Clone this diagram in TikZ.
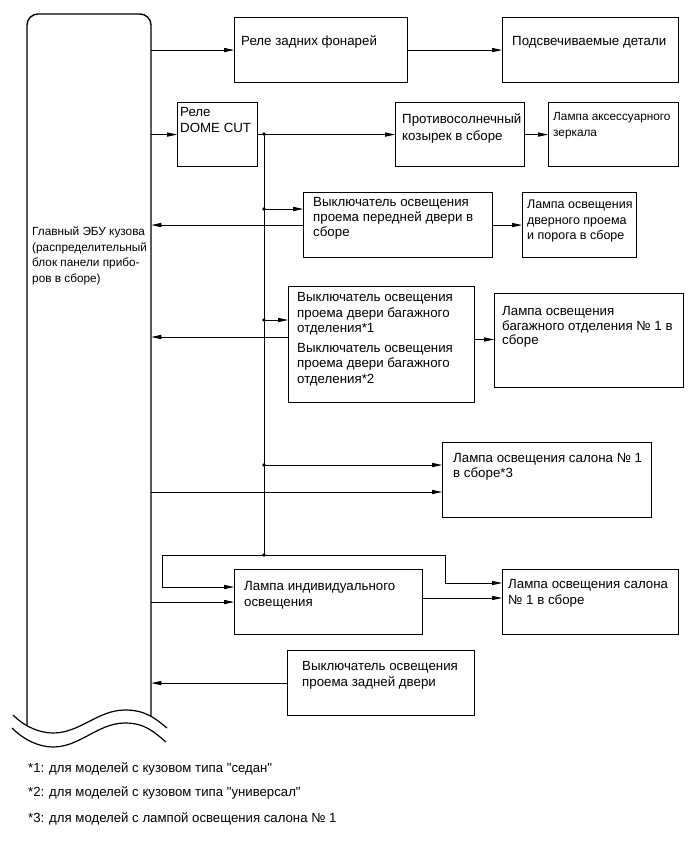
\documentclass[tikz,border=0pt]{standalone}
\usepackage{fontspec}
\setmainfont{Liberation Sans}[Ligatures=TeXOff]
\usetikzlibrary{arrows.meta}
\newcommand\fmain{\fontsize{13.3}{15.5}\selectfont}
\newcommand\fmid{\fontsize{12.5}{15.5}\selectfont}
\newcommand\fsmall{\fontsize{11.8}{15.5}\selectfont}
\newcommand\ffoot{\fontsize{13.2}{15.5}\selectfont}
\begin{document}
\begin{tikzpicture}[x=1pt,y=-1pt,
  box/.style={draw, line width=1.1pt, inner sep=0, anchor=north west},
  txt/.style={anchor=north west, inner sep=0, align=left, font=\fmain},
  stxt/.style={txt, font=\fsmall},
  ftxt/.style={txt, font=\ffoot},
  conn/.style={line width=0.75pt},
  arr/.style={conn, -{Triangle[length=10pt,width=4.2pt]}},
  eculine/.style={line width=1.4pt},
  dot/.style={fill=black}]
\useasboundingbox (0,0) rectangle (689,853);

% ECU
\path node[inner sep=0, minimum width=124pt, minimum height=711pt, anchor=north west] (ecu) at (27,14) {};
\draw[eculine, rounded corners=11pt] (27,725) -- (27,14) -- (151,14) -- (151,716);
\draw[line width=1.2pt] (13,715) .. controls (25,727) and (40,733) .. (53,733)
  .. controls (80,733) and (98,710) .. (125,710)
  .. controls (145,710) and (155,718) .. (167,728);
\draw[line width=1.2pt] (12,728) .. controls (24,740) and (39,747) .. (53,747)
  .. controls (80,747) and (98,723) .. (125,723)
  .. controls (145,723) and (154,732) .. (166,742);
\node[stxt] (tecu) at (32,224.5) {\strut Главный ЭБУ кузова\\(распределительный\\блок панели прибо-\\ров в сборе)};

% boxes
\node[box, minimum width=173pt, minimum height=65pt] (rl) at (234,17) {};
\node[txt] (trl) at (241,34.5) {\strut Реле задних фонарей};
\node[box, minimum width=176pt, minimum height=65pt] (pd) at (502,17) {};
\node[txt] (tpd) at (512,34.5) {\strut Подсвечиваемые детали};

\node[box, minimum width=80pt, minimum height=64pt] (dc) at (177,102) {};
\node[txt, font=\fontsize{13.3}{16}\selectfont] (tdc) at (180,105) {\strut Реле\\DOME CUT};
\node[box, minimum width=129pt, minimum height=64pt] (sv) at (395,102) {};
\node[txt, font=\fontsize{13.3}{17}\selectfont] (tsv) at (402,111) {\strut Противосолнечный\\козырек в сборе};
\node[box, minimum width=130pt, minimum height=64pt] (ml) at (548,102) {};
\node[stxt] (tml) at (553,109.5) {\strut Лампа аксессуарного\\зеркала};

\node[box, minimum width=189pt, minimum height=65pt] (fs) at (303,192) {};
\node[txt, font=\fontsize{13.3}{15}\selectfont] (tfs) at (313,195.5) {\strut Выключатель освещения\\проема передней двери в\\сборе};
\node[box, minimum width=114pt, minimum height=65pt] (dl) at (522,192) {};
\node[txt, font=\fmid] (tdl) at (527,197.5) {\strut Лампа освещения\\дверного проема\\и порога в сборе};

\node[box, minimum width=186pt, minimum height=116pt] (ls) at (288,286) {};
\node[txt, font=\fontsize{13.3}{15.5}\selectfont] (tls) at (297,290.5) {\strut Выключатель освещения\\проема двери багажного\\отделения*1\\[4pt]Выключатель освещения\\проема двери багажного\\отделения*2};
\node[box, minimum width=189pt, minimum height=94pt] (ll) at (494,293) {};
\node[txt, font=\fontsize{13.3}{14.5}\selectfont] (tll) at (502,305.5) {\strut Лампа освещения\\багажного отделения № 1 в\\сборе};

\node[box, minimum width=209pt, minimum height=75pt] (sl) at (442,442) {};
\node[txt, font=\fontsize{13.3}{14.5}\selectfont] (tsl) at (453,452.5) {\strut Лампа освещения салона № 1\\в сборе*3};

\node[box, minimum width=188pt, minimum height=65pt] (il) at (234,569) {};
\node[txt, font=\fontsize{13.3}{16}\selectfont] (til) at (244,579.5) {\strut Лампа индивидуального\\освещения};
\node[box, minimum width=176pt, minimum height=65pt] (s2) at (502,569) {};
\node[txt] (ts2) at (508,577.5) {\strut Лампа освещения салона\\№ 1 в сборе};

\node[box, minimum width=187pt, minimum height=65pt] (rd) at (287,650) {};
\node[txt] (trd) at (302,659.5) {\strut Выключатель освещения\\проема задней двери};

% footnotes
\node[ftxt] (fn1) at (28,761.5) {\strut *1: для моделей с кузовом типа "седан"};
\node[ftxt] (fn2) at (28,785.5) {\strut *2: для моделей с кузовом типа "универсал"};
\node[ftxt] (fn3) at (28,811.5) {\strut *3: для моделей с лампой освещения салона № 1};

% junctions and levels
\coordinate (j1) at (264,134);
\coordinate (j2) at (264,209);
\coordinate (j3) at (264,320);
\coordinate (j4) at (264,465);
\coordinate (j5) at (264,555);
\coordinate (y337) at (0,337);
\coordinate (y339) at (0,339.5);
\coordinate (y492) at (0,492);
\coordinate (y583) at (0,583);
\coordinate (y587) at (0,587);
\coordinate (y598) at (0,598);
\coordinate (lft) at (162,555);
\coordinate (rgt) at (445,555);

% connectors
\draw[arr] (ecu.east |- rl.west) -- (rl.west);
\draw[arr] (rl.east) -- (pd.west);
\draw[arr] (ecu.east |- dc.west) -- (dc.west);
\draw[arr] (dc.east) -- (sv.west);
\draw[arr] (sv.east) -- (ml.west);
\draw[conn] (j1) -- (j5);
\draw[arr] (j2) -- (fs.west |- j2);
\draw[arr] (fs.west) -- (ecu.east |- fs.west);
\draw[arr] (fs.east) -- (dl.west);
\draw[arr] (j3) -- (ls.west |- j3);
\draw[arr] (ls.west |- y337) -- (ecu.east |- y337);
\draw[arr] (ls.east |- y339) -- (ll.west |- y339);
\draw[arr] (j4) -- (sl.west |- j4);
\draw[arr] (ecu.east |- y492) -- (sl.west |- y492);
\draw[arr] (j5) -- (lft) |- (il.west |- y587);
\draw[arr] (j5) -- (rgt) |- (s2.west |- y583);
\draw[arr] (ecu.east |- il.west) -- (il.west);
\draw[arr] (il.east |- y598) -- (s2.west |- y598);
\draw[arr] (rd.west) -- (ecu.east |- rd.west);

\foreach \j in {j1,j2,j3,j4,j5} \fill[dot] (\j) circle (1.8pt);
\end{tikzpicture}
\end{document}
